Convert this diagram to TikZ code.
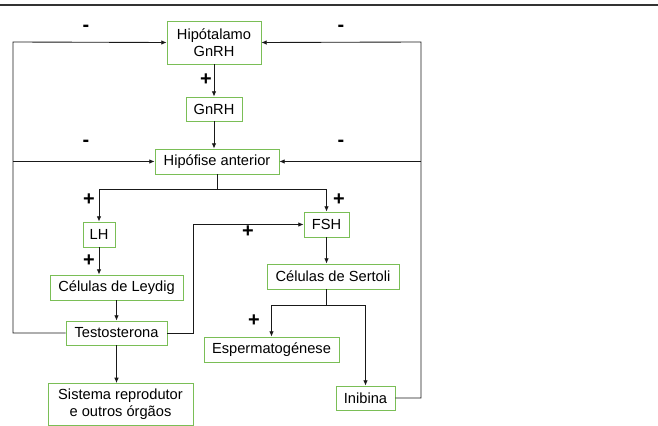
\documentclass[tikz,border=0pt]{standalone}
\usepackage{fontspec}
\setmainfont{Liberation Sans}
\usetikzlibrary{arrows.meta}

\definecolor{boxgreen}{RGB}{122,190,86}

\tikzset{
    hbox/.style={draw=boxgreen, line width=0.8pt, inner sep=0pt, align=center,
        font=\fontsize{12.5}{14.5}\selectfont},
    wire/.style={draw=black!90, line width=0.75pt},
    arr/.style={wire, -{Latex[length=4.5pt,width=4pt]}},
    sign/.style={font=\fontsize{17}{17}\selectfont\bfseries}
}

\begin{document}
\begin{tikzpicture}[x=0.03cm, y=-0.03cm]

    \useasboundingbox (0,0) rectangle (658,426);
    \draw[line width=1pt, black!80] (0,5) -- (658,5);

    \node[hbox, minimum width=2.82cm, minimum height=1.29cm] (hipot) at (214,42.5) {Hipótalamo\\GnRH};
    \node[hbox, minimum width=1.68cm, minimum height=0.72cm] (gnrh) at (214,109) {GnRH};
    \node[hbox, minimum width=3.72cm, minimum height=0.75cm] (hipof) at (217,161.5) {Hipófise anterior};
    \node[hbox, minimum width=0.96cm, minimum height=0.75cm] (lh) at (99,234.5) {LH};
    \node[hbox, minimum width=3.99cm, minimum height=0.75cm] (leydig) at (116.5,287.5) {Células de Leydig};
    \node[hbox, minimum width=3.03cm, minimum height=0.72cm] (testo) at (116.5,333) {Testosterona};
    \node[hbox, minimum width=4.35cm, inner ysep=5pt, anchor=north] (sistema) at (120.5,383) {Sistema reprodutor\\e outros órgãos};
    \node[hbox, minimum width=1.35cm, minimum height=0.75cm] (fsh) at (326.5,224.5) {FSH};
    \node[hbox, minimum width=3.96cm, minimum height=0.75cm] (sertoli) at (333,276.5) {Células de Sertoli};
    \node[hbox, minimum width=4.05cm, minimum height=0.75cm] (esper) at (271.5,349.5) {Espermatogénese};
    \node[hbox, minimum width=1.77cm, minimum height=0.72cm] (inib) at (365.5,398) {Inibina};

    \coordinate (leftbus) at (13,42);
    \coordinate (rightbus) at (421,42);

    \draw[arr] (hipot.south) -- (gnrh.north);
    \draw[arr] (gnrh.south) -- (gnrh.south |- hipof.north);
    \path (hipof.south) ++(0,15) coordinate (hsplit);
    \draw[arr] (hipof.south) -- (hsplit) -| (lh.north);
    \draw[arr] (hsplit) -| (fsh.north);
    \draw[arr] (lh.south) -- (lh.south |- leydig.north);
    \draw[arr] (leydig.south) -- (testo.north);
    \draw[arr] (testo.south) -- (testo.south |- sistema.north);
    \draw[arr] (testo.east) -- ++(26,0) |- (fsh.west);
    \draw[arr] (fsh.south) -- (fsh.south |- sertoli.north);
    \path (fsh.south |- sertoli.south) ++(0,16) coordinate (ssplit);
    \draw[arr] (fsh.south |- sertoli.south) -- (ssplit) -| (esper.north);
    \draw[arr] (ssplit) -| (inib.north);

    \draw[arr] (testo.west) -| (leftbus) -- (hipot.west);
    \draw[arr] (leftbus |- hipof.west) -- (hipof.west);
    \draw[arr] (inib.east) -| (rightbus) -- (hipot.east);
    \draw[arr] (rightbus |- hipof.east) -- (hipof.east);

    \node[sign] (m1) at (86,28) {-};
    \node[sign] (m2) at (341,28) {-};
    \node[sign] (m3) at (86,143) {-};
    \node[sign] (m4) at (341,143) {-};
    \node[sign] (p1) at (206,80) {+};
    \node[sign] (p2) at (89,200) {+};
    \node[sign] (p3) at (339,200) {+};
    \node[sign] (p4) at (89,261) {+};
    \node[sign] (p5) at (248,232) {+};
    \node[sign] (p6) at (254,321) {+};

\end{tikzpicture}
\end{document}
